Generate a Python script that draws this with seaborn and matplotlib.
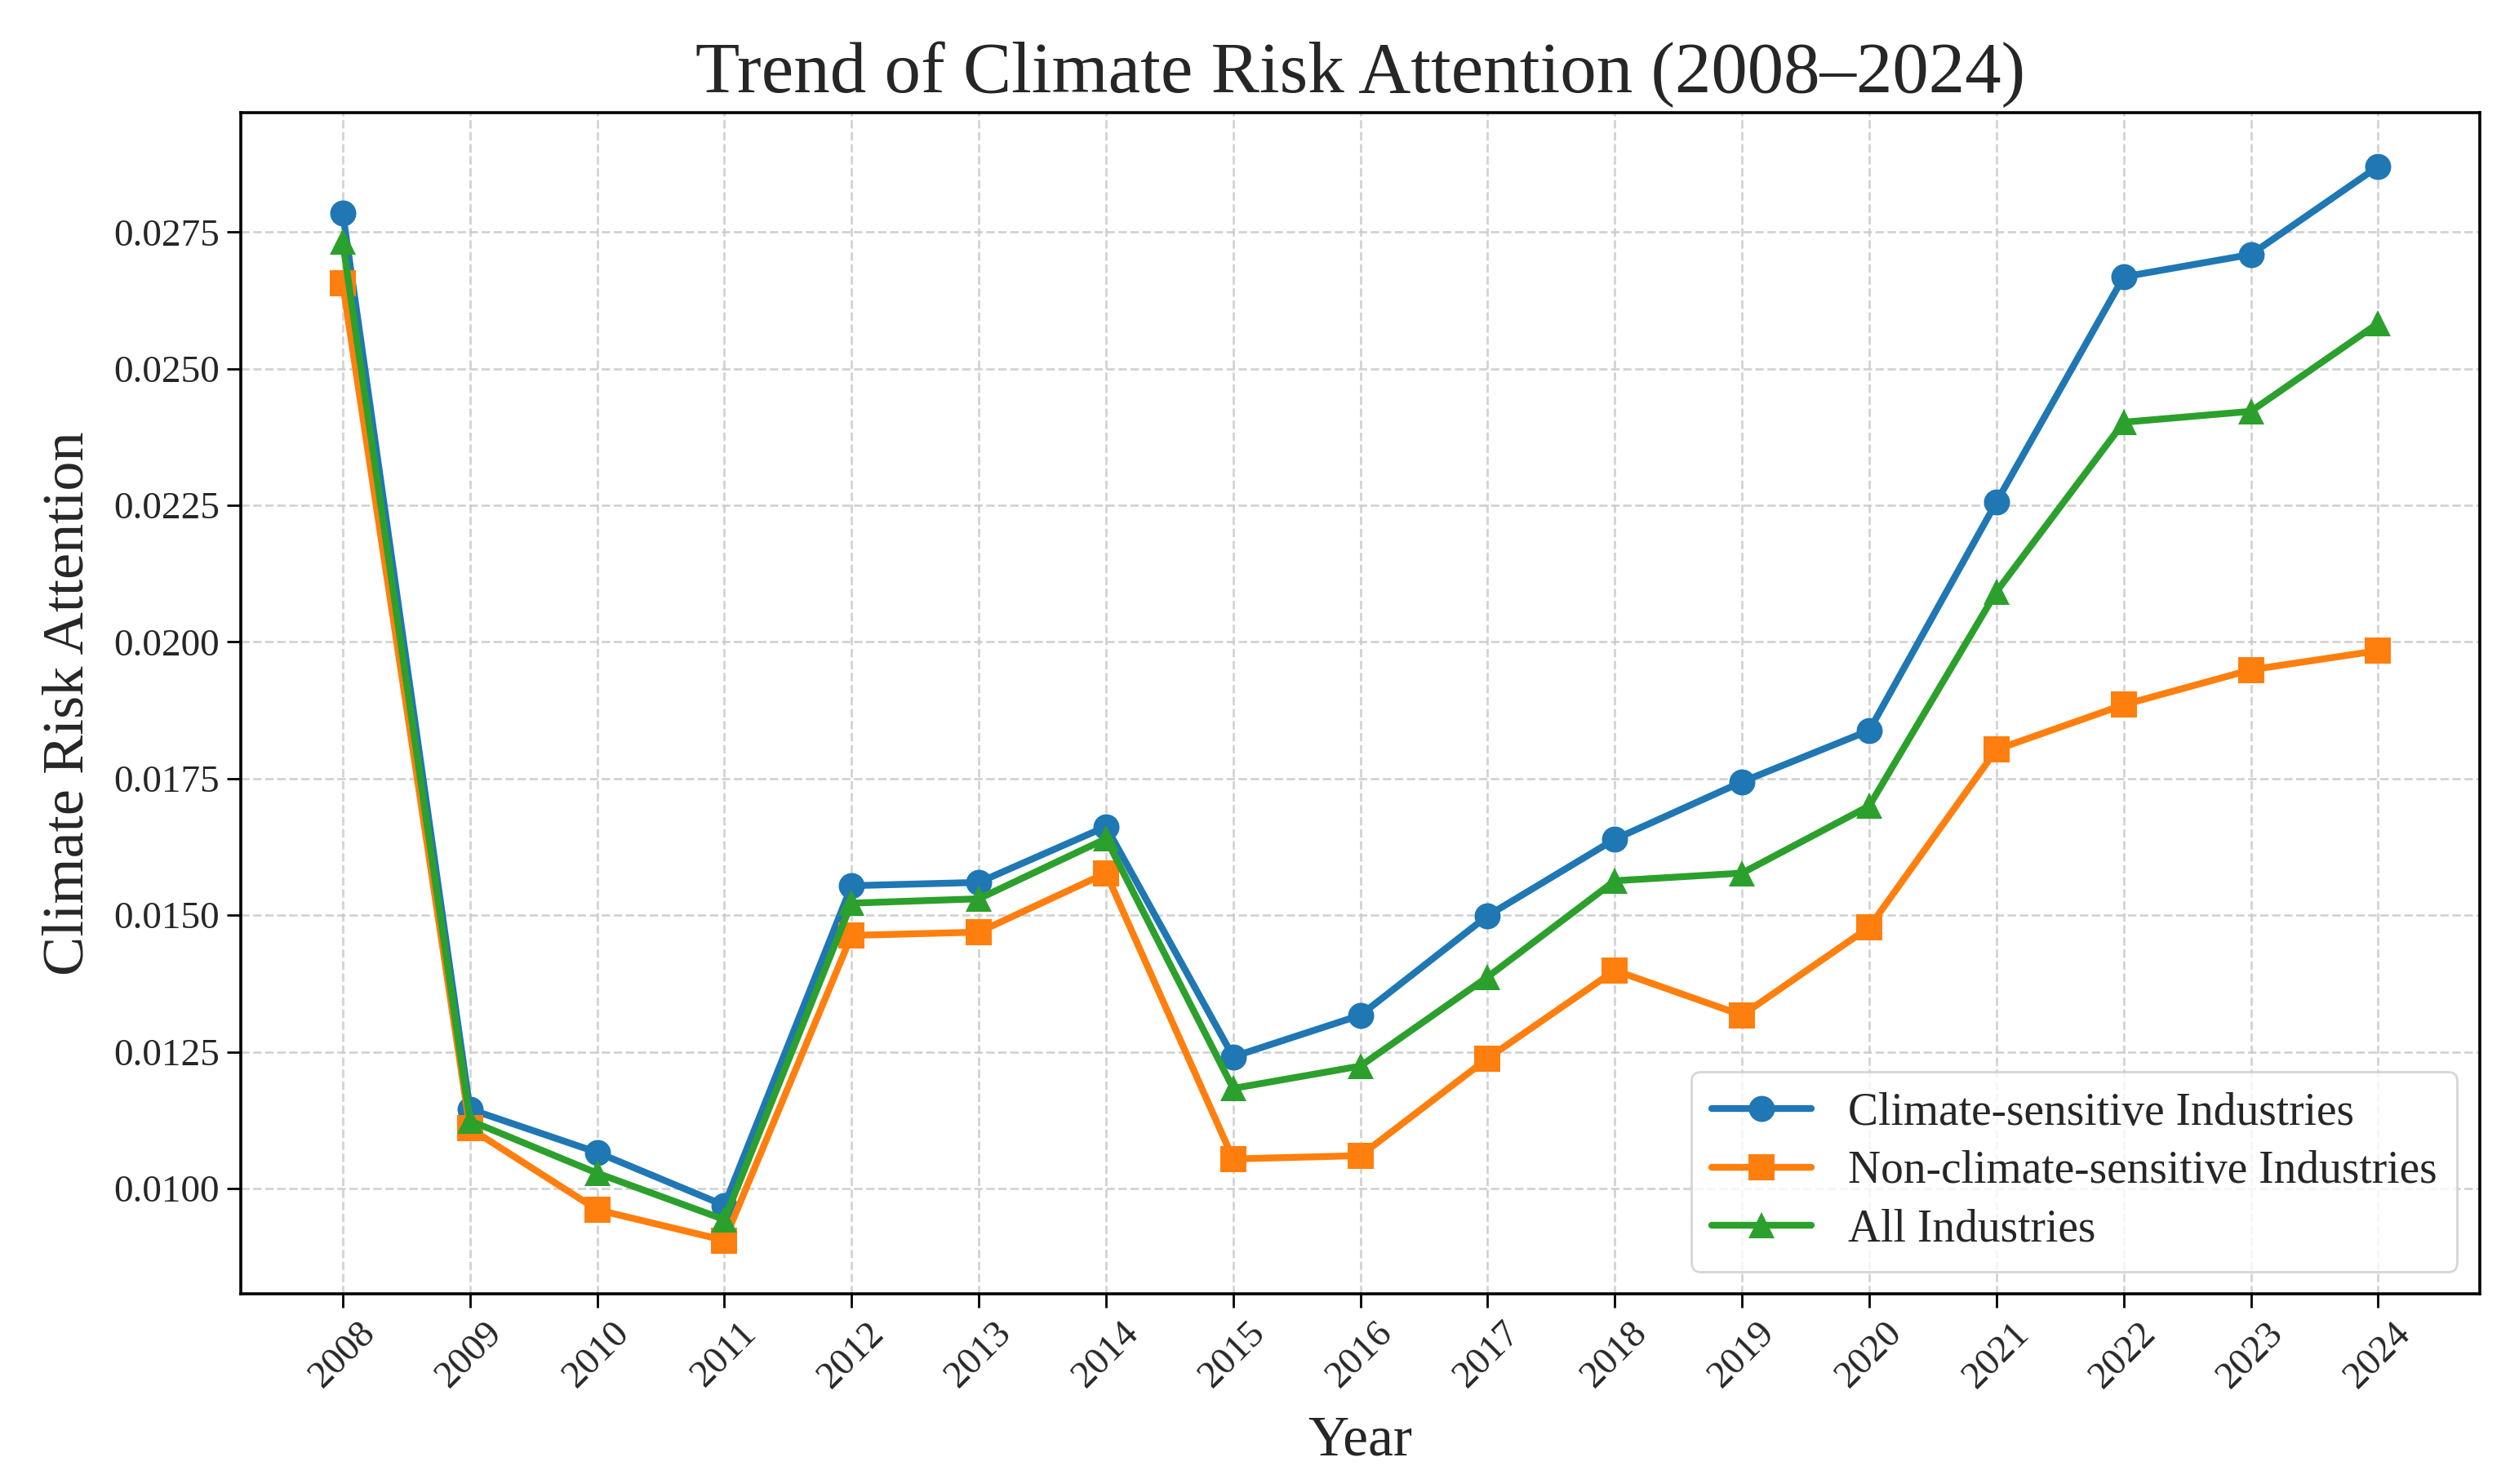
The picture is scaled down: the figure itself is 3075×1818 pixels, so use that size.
import matplotlib
matplotlib.use("Agg")
import matplotlib.pyplot as plt
import pandas as pd
import seaborn as sns

# ── Data ──────────────────────────────────────────────────────────────────────
years = list(range(2008, 2025))

climate_sensitive = [
    0.02785, 0.01145, 0.01066, 0.00969, 0.01554, 0.01560, 0.01662, 0.01241, 0.01317,
    0.01499, 0.01639, 0.01744, 0.01838, 0.02256, 0.02668, 0.02709, 0.02870,
]
non_climate_sensitive = [
    0.02656, 0.01110, 0.00961, 0.00905, 0.01463, 0.01469, 0.01577, 0.01054, 0.01060,
    0.01238, 0.01399, 0.01317, 0.01478, 0.01803, 0.01885, 0.01949, 0.01984,
]
all_industries = [
    0.02732, 0.01124, 0.01028, 0.00943, 0.01522, 0.01530, 0.01640, 0.01183, 0.01224,
    0.01387, 0.01563, 0.01577, 0.01700, 0.02092, 0.02402, 0.02422, 0.02583,
]

series_names = [
    "Climate-sensitive Industries",
    "Non-climate-sensitive Industries",
    "All Industries",
]
series_values = [climate_sensitive, non_climate_sensitive, all_industries]

df = pd.concat(
    [pd.DataFrame({"Year": years, "Value": vals, "Group": name})
     for name, vals in zip(series_names, series_values)],
    ignore_index=True,
)

# ── Style ─────────────────────────────────────────────────────────────────────
sns.set_theme(style="ticks")
plt.rcParams["font.family"] = ["Liberation Serif", "DejaVu Serif"]

palette = dict(zip(series_names, ["#1f77b4", "#ff7f0e", "#2ca02c"]))
markers = dict(zip(series_names, ["o", "s", "^"]))

fig, ax = plt.subplots(figsize=(15.375, 9.09), dpi=200)
fig.subplots_adjust(left=0.096, right=0.988, top=0.924, bottom=0.128)

sns.lineplot(
    data=df, x="Year", y="Value", hue="Group", style="Group",
    hue_order=series_names, style_order=series_names,
    palette=palette, markers=markers, dashes=False,
    linewidth=3.0, markersize=11.5, markeredgewidth=0,
    ax=ax,
)

ax.set_xticks(years)
ax.set_xticklabels([str(y) for y in years], rotation=45, fontsize=17)
ax.tick_params(axis="y", labelsize=17)
ax.tick_params(axis="both", length=6, width=1.0, color="black")
ax.yaxis.set_major_formatter(matplotlib.ticker.FormatStrFormatter("%.4f"))

ax.grid(True, linestyle="--", color="#c8c8c8", linewidth=1.0, alpha=0.8)
for sp in ax.spines.values():
    sp.set_color("black")
    sp.set_linewidth(1.3)

ax.set_title("Trend of Climate Risk Attention (2008–2024)", fontsize=32, pad=9)
ax.set_xlabel("Year", fontsize=25, labelpad=9)
ax.set_ylabel("Climate Risk Attention", fontsize=26, labelpad=8)

leg = ax.legend(loc="lower right", fontsize=20, frameon=True, fancybox=True,
                framealpha=0.8, edgecolor="#cccccc", handlelength=2.2,
                borderpad=0.45, labelspacing=0.35)

fig.savefig("out.png", dpi=200)
plt.close(fig)
